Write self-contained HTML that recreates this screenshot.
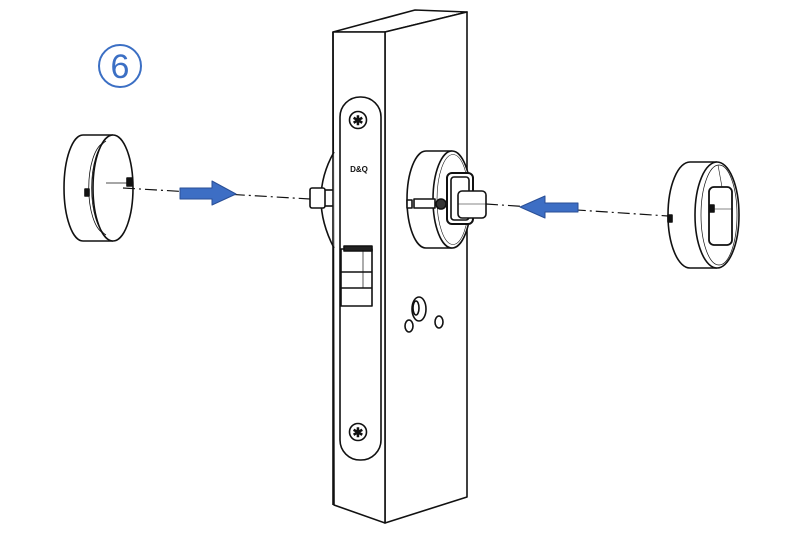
<!DOCTYPE html>
<html><head><meta charset="utf-8"><style>html,body{margin:0;padding:0;background:#fff}svg{display:block}</style></head>
<body>
<svg width="800" height="533" viewBox="0 0 800 533" xmlns="http://www.w3.org/2000/svg" fill="none" stroke="#111" stroke-width="1.6" stroke-linejoin="round">
<!-- step number -->
<circle cx="120" cy="66" r="21" stroke="#3b6fc4" stroke-width="2"/>
<text x="120" y="78" font-family="Liberation Sans, sans-serif" font-size="34" fill="#3b6fc4" stroke="none" text-anchor="middle">6</text>

<!-- left cap -->
<path d="M83 135 L113 135 M83 241 L113 241"/>
<path d="M83 135 A19 53 0 0 0 83 241"/>
<ellipse cx="113" cy="188" rx="20" ry="53" fill="#fff"/>
<path d="M106 141 A18 48 0 0 0 106 235" stroke-width="0.8"/>
<path d="M103 143 A18 46 0 0 0 103 233" stroke-width="0.8"/>
<line x1="106" y1="183" x2="128" y2="183" stroke-width="0.8"/>
<rect x="127" y="178" width="5" height="8" fill="#111"/>
<rect x="85" y="189" width="4" height="7" fill="#111"/>

<!-- left dash-dot line -->
<line x1="123" y1="188" x2="310" y2="199" stroke-width="1.2" stroke-dasharray="12 4 2 4"/>
<!-- left arrow -->
<polygon points="180,188 212,188 212,181 236,194 212,205 212,199 180,199" fill="#3d6ec4" stroke="#2a4f96" stroke-width="1"/>

<!-- lock body: box -->
<polygon points="333,32 415,10 467,12 385,32" fill="#fff"/>
<polygon points="385,32 467,12 467,497 385,523" fill="#fff"/>
<polygon points="333,32 385,32 385,523 334,505" fill="#fff"/>
<!-- left rosette behind -->
<path d="M334 152 Q308 198 334 248" fill="#fff"/>
<rect x="310" y="188" width="15" height="20" rx="2" fill="#fff"/>
<line x1="325" y1="190" x2="333" y2="190"/><line x1="325" y1="206" x2="333" y2="206"/>
<line x1="333" y1="32" x2="333" y2="505"/>
<!-- faceplate -->
<rect x="340" y="97" width="41" height="363" rx="20" fill="#fff"/>
<circle cx="358" cy="120" r="8.5"/>
<text x="358" y="125" font-family="Liberation Sans, sans-serif" font-size="13" font-weight="bold" fill="#111" stroke="none" text-anchor="middle">✱</text>
<circle cx="358" cy="432" r="8.5"/>
<text x="358" y="437" font-family="Liberation Sans, sans-serif" font-size="13" font-weight="bold" fill="#111" stroke="none" text-anchor="middle">✱</text>
<text x="359" y="172" font-family="Liberation Sans, sans-serif" font-size="8" font-weight="bold" fill="#111" stroke="none" text-anchor="middle">D&amp;Q</text>
<!-- latch -->
<rect x="341" y="249" width="31" height="57" fill="#fff"/>
<rect x="344" y="246" width="28" height="5" fill="#222"/>
<line x1="341" y1="272" x2="372" y2="272"/><line x1="341" y1="288" x2="372" y2="288"/>
<line x1="363" y1="250" x2="363" y2="288" stroke-width="0.7"/>

<!-- right rosette -->
<path d="M426 151 L452 151 L452 248 L426 248 A19 48.5 0 0 1 426 151 Z" fill="#fff"/>
<ellipse cx="452" cy="199.5" rx="19" ry="48.5" fill="#fff"/>
<ellipse cx="453" cy="199.5" rx="16" ry="45" stroke-width="0.6"/>
<rect x="407" y="200" width="5" height="8" fill="#fff"/>
<rect x="414" y="199" width="21" height="9" fill="#fff"/>
<circle cx="441" cy="204" r="5" fill="#333"/>
<rect x="447" y="173" width="26" height="51" rx="5" fill="#fff" stroke-width="2"/>
<rect x="451" y="177" width="18" height="43" rx="3"/>
<rect x="458" y="191" width="28" height="27" rx="4" fill="#fff"/>
<line x1="458" y1="204" x2="486" y2="204" stroke-width="0.6"/>

<!-- holes -->
<ellipse cx="419" cy="309" rx="7" ry="12"/>
<ellipse cx="416" cy="308" rx="3" ry="7"/>
<ellipse cx="409" cy="326" rx="4" ry="6"/>
<ellipse cx="439" cy="322" rx="4" ry="6"/>

<!-- right dash-dot line -->
<line x1="486" y1="204" x2="668" y2="216" stroke-width="1.2" stroke-dasharray="12 4 2 4"/>
<!-- right arrow -->
<polygon points="578,203 545,203 545,196 520,207 545,218 545,212 578,212" fill="#3d6ec4" stroke="#2a4f96" stroke-width="1"/>

<!-- right cap -->
<path d="M690 162 A22 53 0 0 0 690 268 L717 268 L717 162 Z" fill="#fff" stroke="none"/>
<path d="M690 162 L717 162 M690 268 L717 268"/>
<path d="M690 162 A22 53 0 0 0 690 268"/>
<ellipse cx="717" cy="215" rx="22" ry="53" fill="#fff"/>
<ellipse cx="719" cy="215" rx="18" ry="50" stroke-width="0.7"/>
<rect x="709" y="187" width="23" height="58" rx="5" stroke-width="1.8"/>
<line x1="712" y1="209" x2="733" y2="209" stroke-width="0.6"/>
<line x1="718" y1="165" x2="722" y2="187" stroke-width="0.6"/>
<rect x="710" y="205" width="4" height="7" fill="#111"/>
<rect x="668" y="215" width="4" height="7" fill="#111"/>
</svg>
</body></html>
